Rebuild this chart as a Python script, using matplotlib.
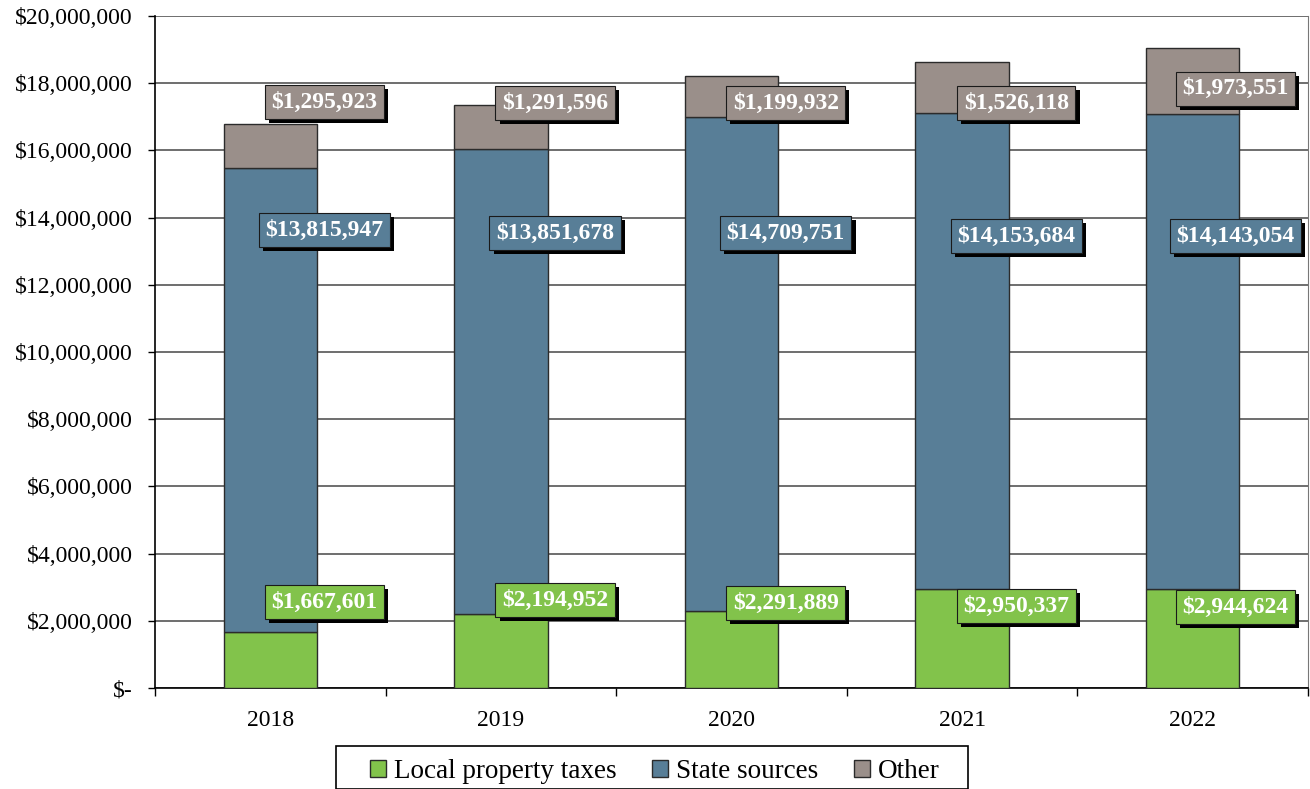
import matplotlib.pyplot as plt
import matplotlib.patheffects as pe
from matplotlib.patches import Rectangle
from matplotlib.ticker import FuncFormatter, FixedLocator
import numpy as np

years = ["2018", "2019", "2020", "2021", "2022"]
local_taxes = [1667601, 2194952, 2291889, 2950337, 2944624]
state_sources = [13815947, 13851678, 14709751, 14153684, 14143054]
other = [1295923, 1291596, 1199932, 1526118, 1973551]

series_names = ["Local property taxes", "State sources", "Other"]
colors = ["#82c34b", "#587e97", "#9a8f8a"]

# where the value boxes sit: y in data units, x as offset from the bar centre
label_y = {
    "Local property taxes": [2.56e6, 2.62e6, 2.53e6, 2.44e6, 2.41e6],
    "State sources": [13.63e6, 13.54e6, 13.54e6, 13.45e6, 13.45e6],
    "Other": [17.44e6, 17.41e6, 17.41e6, 17.41e6, 17.83e6],
}
label_dx = [0.235, 0.235, 0.235, 0.235, 0.185]

plt.rcParams["font.family"] = ["Liberation Serif", "DejaVu Serif"]

fig = plt.figure(figsize=(13.1, 7.89), dpi=100)
ax = fig.add_axes([0.1183, 0.128, 0.8802, 0.8517])

x = np.arange(len(years))
width = 0.405
bottom = np.zeros(len(years))
handles = []
for name, vals, col in zip(series_names, [local_taxes, state_sources, other], colors):
    bars = ax.bar(x, vals, width, bottom=bottom, color=col, edgecolor="#2b2b2b",
                  linewidth=1.0, zorder=3, label=name)
    handles.append(bars)
    for i, v in enumerate(vals):
        t = ax.text(x[i] + label_dx[i], label_y[name][i], f"${v:,.0f}", ha="center",
                    va="center", color="white", fontsize=17, fontweight="bold", zorder=6,
                    bbox=dict(boxstyle="square,pad=0.28", facecolor=col,
                              edgecolor="#1a1a1a", linewidth=0.8))
        t.get_bbox_patch().set_path_effects([
            pe.SimplePatchShadow(offset=(3, -3), shadow_rgbFace="black", alpha=1.0),
            pe.Normal()])
    bottom += np.array(vals)

ax.set_xlim(-0.5, len(years) - 0.5)
ax.set_ylim(0, 20000000)
ax.set_yticks(np.arange(0, 20000001, 2000000))
ax.yaxis.set_major_formatter(FuncFormatter(lambda v, p: "$-" if v == 0 else f"${v:,.0f}"))
ax.grid(axis="y", color="#555555", linewidth=1.2, zorder=0)

ax.set_xticks(x)
ax.set_xticklabels(years)
ax.xaxis.set_minor_locator(FixedLocator(np.arange(-0.5, len(years), 1.0)))
ax.tick_params(axis="x", which="major", length=0, pad=16, labelsize=17)
ax.tick_params(axis="x", which="minor", length=6, width=1.0, direction="out")
ax.tick_params(axis="y", length=5, width=1.0, direction="out", labelsize=17, pad=11)

ax.spines["top"].set_visible(False)
ax.spines["right"].set_color("#777777")
ax.spines["left"].set_color("black")
ax.spines["bottom"].set_color("black")
ax.spines["left"].set_linewidth(1.2)
ax.spines["bottom"].set_linewidth(1.2)

fig.legend(handles, series_names, loc="center", bbox_to_anchor=(0.5, 0.022),
           ncol=3, fontsize=19.5, frameon=False,
           handlelength=0.6, handleheight=0.6, handletextpad=0.3, columnspacing=1.3,
           borderpad=0.1)
# legend frame
fig.patches.append(Rectangle((336 / 1310, 0), 632 / 1310, 43 / 789,
                             transform=fig.transFigure, fill=False,
                             edgecolor="black", linewidth=1.2))

fig.savefig("out.png", dpi=100)
